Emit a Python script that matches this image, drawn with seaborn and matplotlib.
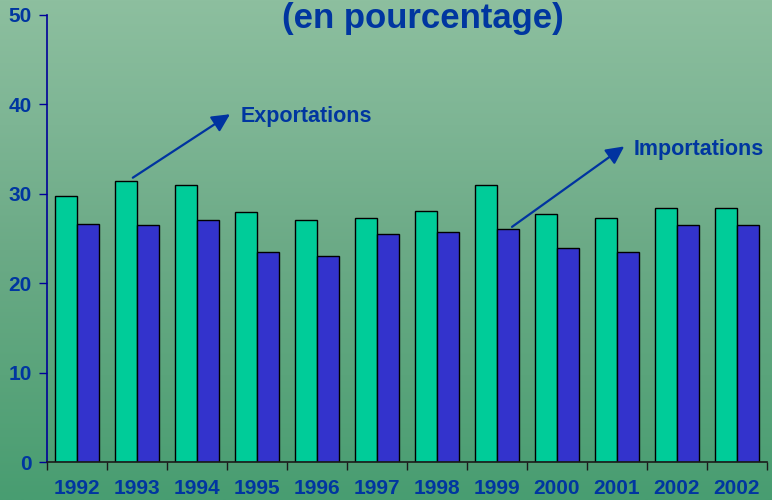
import numpy as np
import pandas as pd
import matplotlib
matplotlib.use("Agg")
import matplotlib.pyplot as plt
import seaborn as sns
from matplotlib.colors import LinearSegmentedColormap

years = ["1992", "1993", "1994", "1995", "1996", "1997",
         "1998", "1999", "2000", "2001", "2002", "2002"]
exportations = [29.8, 31.4, 31.0, 28.0, 27.1, 27.3, 28.1, 31.0, 27.7, 27.3, 28.4, 28.4]
importations = [26.6, 26.5, 27.1, 23.5, 23.0, 25.5, 25.7, 26.1, 23.9, 23.5, 26.5, 26.5]

series_names = ["Exportations", "Importations"]
bar_colors = ["#00CC99", "#3333CC"]
text_color = "#0036A0"

# long table; position index keeps the two "2002" groups apart
df = pd.DataFrame({
    "pos": list(range(len(years))) * 2,
    "serie": [series_names[0]] * len(years) + [series_names[1]] * len(years),
    "valeur": exportations + importations,
})

sns.set_theme(style="white")
plt.rcParams['font.family'] = ['Liberation Sans', 'DejaVu Sans']

fig = plt.figure(figsize=(7.72, 5.0), dpi=100)

# green gradient background
bg = fig.add_axes([0, 0, 1, 1], zorder=0)
cmap = LinearSegmentedColormap.from_list(
    "fond", ["#8DBF9F", "#7DB594", "#6BAA86", "#5AA47B", "#489D71"])
bg.imshow(np.linspace(0, 1, 256).reshape(-1, 1), aspect="auto", cmap=cmap,
          extent=[0, 1, 0, 1])
bg.axis("off")

ax = fig.add_axes([0.0609, 0.076, 0.9326, 0.894], zorder=1)
ax.patch.set_alpha(0)

sns.barplot(data=df, x="pos", y="valeur", hue="serie", palette=bar_colors,
            width=0.72, edgecolor="black", linewidth=1.0, saturation=1,
            legend=False, ax=ax)

ax.set_xlim(-0.5, len(years) - 0.5)
ax.set_ylim(0, 50)
ax.set_xlabel("")
ax.set_ylabel("")

# ticks between groups, labels centred on groups
ax.set_xticks(np.arange(-0.5, len(years), 1.0))
ax.set_xticklabels([])
ax.set_xticks(range(len(years)), minor=True)
ax.set_xticklabels(years, minor=True)
ax.tick_params(axis="x", which="major", direction="out", length=6, width=1,
               color="#1a1a1a", bottom=True)
ax.tick_params(axis="x", which="minor", length=0, pad=12, labelsize=15,
               labelcolor=text_color)
ax.set_yticks([0, 10, 20, 30, 40, 50])
ax.tick_params(axis="y", direction="out", length=6, width=1, color="#000099",
               left=True, pad=5, labelsize=15, labelcolor=text_color)
for lab in ax.get_xticklabels(minor=True) + ax.get_yticklabels():
    lab.set_fontweight("bold")

for s in ["top", "right"]:
    ax.spines[s].set_visible(False)
ax.spines["left"].set_color("#000099")
ax.spines["left"].set_linewidth(1.2)
ax.spines["bottom"].set_color("#1a1a1a")
ax.spines["bottom"].set_linewidth(1.2)

fig.text(0.548, 0.944, "(en pourcentage)", ha="center", va="baseline",
         fontsize=25, fontweight="bold", color=text_color)

# arrows + labels
arrow_style = dict(arrowstyle="-|>,head_length=0.9,head_width=0.45",
                   color="#0033A0", lw=1.6, shrinkA=0, shrinkB=0)
ax.annotate("", xy=(2.55, 38.9), xytext=(0.93, 31.8), arrowprops=arrow_style)
ax.text(2.72, 38.6, "Exportations", ha="left", va="center", fontsize=15.5,
        fontweight="bold", color=text_color)
ax.annotate("", xy=(9.12, 35.3), xytext=(7.25, 26.3), arrowprops=arrow_style)
ax.text(9.27, 35.0, "Importations", ha="left", va="center", fontsize=15.5,
        fontweight="bold", color=text_color)

fig.savefig("out.png", dpi=100)
